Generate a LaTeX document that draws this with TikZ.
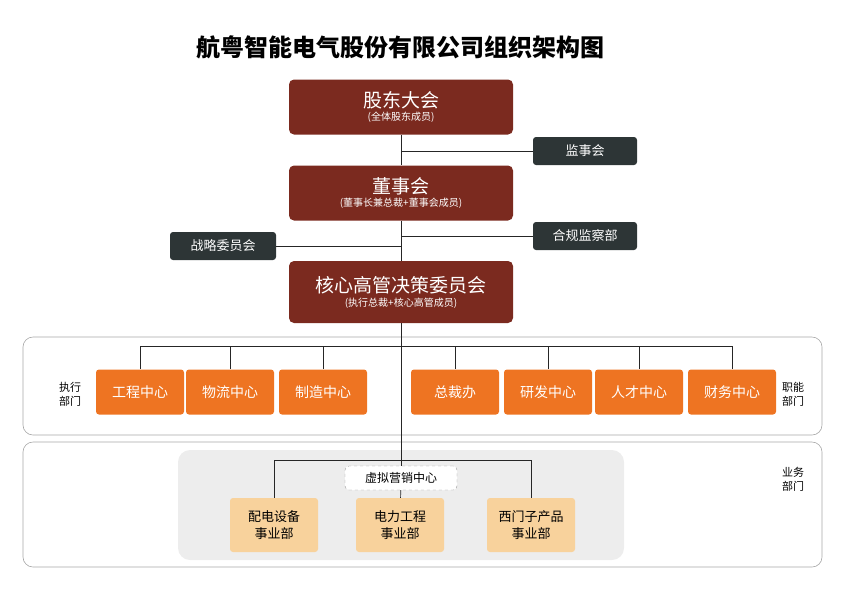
\documentclass[tikz,border=0pt]{standalone}
\usepackage{fontspec}
\setmainfont{Noto Sans CJK SC}
\definecolor{boardred}{HTML}{7B2A1F}
\definecolor{sidegray}{HTML}{2D3536}
\definecolor{deptorange}{HTML}{EE7422}
\definecolor{unitpeach}{HTML}{F8D29C}
\begin{document}
\begin{tikzpicture}[x=1pt,y=-1pt,
  mainbox/.style={fill=boardred,rounded corners=5pt,minimum width=224pt,text=white,align=center,inner sep=0pt},
  sidebox/.style={fill=sidegray,rounded corners=3pt,minimum width=104pt,minimum height=28pt,text=white,font=\fontsize{13}{15}\selectfont},
  deptbox/.style={fill=deptorange,rounded corners=3pt,minimum width=88pt,minimum height=45pt,text=white,font=\fontsize{14}{16}\selectfont},
  unitbox/.style={fill=unitpeach,rounded corners=3pt,minimum width=88pt,minimum height=54pt,align=center,font=\fontsize{13}{17}\selectfont},
  panel/.style={draw=black!35,rounded corners=10pt,line width=0.6pt},
  line/.style={draw=black!85,line width=0.7pt},
  sidelabel/.style={align=center,font=\fontsize{11}{14}\selectfont}]
\useasboundingbox (0,0) rectangle (842,595);
\node[font=\bfseries\fontsize{24}{28}\selectfont]
(title) at (400,47) {航粤智能电气股份有限公司组织架构图};
% panels
\draw[panel] (23,337) rectangle (822,435);
\draw[panel] (23,442) rectangle (822,567);
\fill[black!7,rounded corners=12pt] (178,450) rectangle (624,560);
% top chain
\node[mainbox,minimum height=55pt]
(gm) at (401,107) {{\fontsize{19}{22}\selectfont 股东大会}\\[1pt]{\fontsize{10}{12}\selectfont (全体股东成员)}};
\node[mainbox,minimum height=55pt]
(bd) at (401,193) {{\fontsize{19}{22}\selectfont 董事会}\\[1pt]{\fontsize{10}{12}\selectfont (董事长兼总裁+董事会成员)}};
\node[mainbox,minimum height=62pt]
(ec) at (401,292) {{\fontsize{19}{22}\selectfont 核心高管决策委员会}\\[2pt]{\fontsize{10}{12}\selectfont (执行总裁+核心高管成员)}};
\node[sidebox]
(sv) at (585,151) {监事会};
\node[sidebox]
(cp) at (585,236) {合规监察部};
\node[sidebox,minimum width=106pt]
(st) at (223,246) {战略委员会};
\coordinate (t1) at (401,151);
\coordinate (t2) at (401,236);
\coordinate (t3) at (401,246);
\draw[line] (gm) -- (bd);
\draw[line] (bd) -- (ec);
\draw[line] (t1) -- (sv);
\draw[line] (t2) -- (cp);
\draw[line] (t3) -- (st);
% departments
\node[deptbox] (d1) at (140,392) {工程中心};
\node[deptbox] (d2) at (230,392) {物流中心};
\node[deptbox] (d3) at (323,392) {制造中心};
\node[deptbox] (d4) at (455,392) {总裁办};
\node[deptbox] (d5) at (548,392) {研发中心};
\node[deptbox] (d6) at (639,392) {人才中心};
\node[deptbox] (d7) at (732,392) {财务中心};
\node[sidelabel] (exl) at (70,394) {执行\\部门};
\node[sidelabel] (fnl) at (793,394) {职能\\部门};
\node[sidelabel] (bsl) at (793,479) {业务\\部门};
\coordinate (db) at (401,346);
\foreach \d in {d1,d2,d3,d4,d5,d6,d7}
  \draw[line] (db) -| (\d.north);
% business units
\node[draw=black!40,dashed,fill=white,rounded corners=4pt,minimum width=112pt,minimum height=24pt,font=\fontsize{12}{14}\selectfont]
(vm) at (401,478) {虚拟营销中心};
\node[unitbox] (u1) at (274,525) {配电设备\\事业部};
\node[unitbox] (u2) at (400,525) {电力工程\\事业部};
\node[unitbox] (u3) at (531,525) {西门子产品\\事业部};
\coordinate (ub) at (401,460);
\draw[line] (ec) -- (vm);
\draw[line] (vm) -- (u2);
\draw[line] (ub) -| (u1.north);
\draw[line] (ub) -| (u3.north);
\end{tikzpicture}
\end{document}
